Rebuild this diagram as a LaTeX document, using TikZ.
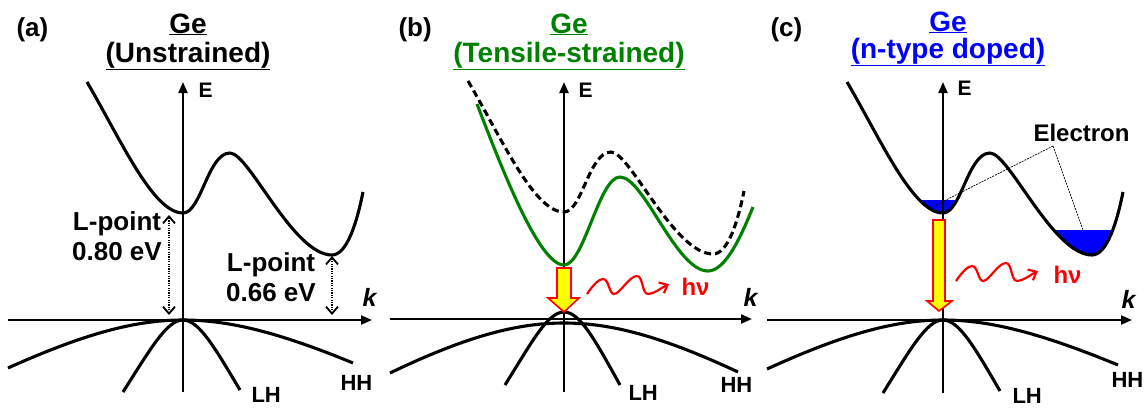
\documentclass[tikz,border=0pt]{standalone}
\usepackage{fontspec}
\setmainfont{Liberation Sans}
\usetikzlibrary{arrows.meta, positioning}
\definecolor{geGreen}{HTML}{008000}
\definecolor{geBlue}{HTML}{0000FF}
\definecolor{geRed}{HTML}{FF0000}
\definecolor{geYellow}{HTML}{FFFF00}
\tikzset{
  axisL/.style={-{Triangle[length=11pt, width=9pt]}, line width=2.2pt},
  bandL/.style={line width=3.1pt, line join=round},
  bandDash/.style={bandL, dash pattern=on 7pt off 4pt},
  bandGreen/.style={bandL, draw=geGreen},
  gapArr/.style={{Straight Barb[length=7pt, width=12pt]}-{Straight Barb[length=7pt, width=12pt]},
                 line width=1.8pt, dash pattern=on 1.2pt off 1.2pt},
  emitArr/.style={draw=geRed, fill=geYellow, line width=1.6pt, line join=miter},
  waveL/.style={-{Straight Barb[length=7pt, width=12pt]}, geRed, line width=2.2pt},
  elecL/.style={black, line width=0.7pt, dash pattern=on 2pt off 1pt},
  titleTxt/.style={font=\bfseries\fontsize{28}{28}\selectfont, anchor=base},
  panelLbl/.style={font=\bfseries\fontsize{26}{26}\selectfont, anchor=base west},
  gapTxt/.style={font=\bfseries\fontsize{26}{30}\selectfont, align=center},
  axisTxt/.style={font=\bfseries\fontsize{21}{21}\selectfont, anchor=base west},
  kTxt/.style={font=\bfseries\itshape\fontsize{25}{25}\selectfont, anchor=base west},
  vbTxt/.style={font=\bfseries\fontsize{22}{22}\selectfont, anchor=base west},
  hvTxt/.style={font=\bfseries\fontsize{24}{24}\selectfont, anchor=base west, text=geRed},
  photon/.pic={\draw[waveL] (0,0) .. controls (6,-9) and (12,-15) .. (16,-15)
     .. controls (22,-15) and (22,0) .. (27,0) .. controls (33,0) and (42,-18) .. (50,-18)
     .. controls (56,-18) and (55,0) .. (61,0) .. controls (67,0) and (74,-6) .. (82,-10);},
}
% conduction band of unstrained Ge (origin = Gamma point at the VB top)
\newcommand{\gecband}{(-96,-238) .. controls (-62,-180) and (-30,-107) .. (0,-107)
  .. controls (18,-107) and (25,-167) .. (47,-167)
  .. controls (66,-167) and (110,-65) .. (149,-65)
  .. controls (164,-65) and (174,-98) .. (180,-128)}

\begin{document}
\begin{tikzpicture}[x=1pt, y=-1pt]
  \useasboundingbox (0,0) rectangle (1145,408);

  %% (a) unstrained
  \node[panelLbl] (labA) at (13,36) {(a)};
  \begin{scope}[shift={(183,320)}]
    \node[titleTxt] (geA) at (5,-287) {\underline{Ge}};
    \node[titleTxt] (unsA) at (5,-258) {\underline{(Unstrained)}};
    \draw[axisL] (-175,0) -- (189,0);
    \draw[axisL] (0,72) -- (0,-238);
    \node[axisTxt] (eA) at (12,-223) {E};
    \node[kTxt] (kA) at (176,-14) {k};
    \draw[bandL] \gecband;
    \draw[bandL] (-175,48) .. controls (-95,12) and (-45,0) .. (0,0)
       .. controls (45,0) and (95,12) .. (170,43);
    \draw[bandL] (-60,72) .. controls (-32,28) and (-16,0) .. (0,0)
       .. controls (16,0) and (32,28) .. (57,70);
    \node[vbTxt] (lhA) at (65,82) {LH};
    \node[vbTxt] (hhA) at (154,70) {HH};
    %% gaps
    \coordinate (gTopA) at (-14,-105); \coordinate (gBotA) at (-14,-5);
    \coordinate (lTopA) at (149,-64); \coordinate (lBotA) at (149,-5);
    \draw[gapArr] (gBotA) -- (gTopA);
    \draw[gapArr] (lBotA) -- (lTopA);
    \node[gapTxt] (gLblA) at (-66,-84) {L-point\\0.80 eV};
    \node[gapTxt] (lLblA) at (88,-43) {L-point\\0.66 eV};
  \end{scope}

  %% (b) tensile strained
  \node[panelLbl] (labB) at (395,36) {(b)};
  \begin{scope}[shift={(564,319)}]
    \node[titleTxt, text=geGreen] (geB) at (5,-286) {\underline{Ge}};
    \node[titleTxt, text=geGreen] (tenB) at (5,-257) {\underline{(Tensile-strained)}};
    \draw[axisL] (-174,0) -- (188,0);
    \draw[axisL] (0,73) -- (0,-237);
    \node[axisTxt] (eB) at (11,-222) {E};
    \node[kTxt] (kB) at (176,-13) {k};
    \draw[bandDash] \gecband;
    \draw[bandGreen] (-87,-215) .. controls (-62,-150) and (-25,-54) .. (0,-54)
       .. controls (20,-54) and (35,-142) .. (56,-142)
       .. controls (80,-142) and (112,-48) .. (144,-48)
       .. controls (162,-48) and (178,-85) .. (189,-112);
    \draw[bandL] (-174,54) .. controls (-95,16) and (-45,4) .. (0,4)
       .. controls (45,4) and (95,16) .. (174,53);
    \draw[bandL] (-59,66) .. controls (-31,21) and (-16,-7) .. (0,-7)
       .. controls (16,-7) and (31,21) .. (56,66);
    \node[vbTxt] (lhB) at (61,81) {LH};
    \node[vbTxt] (hhB) at (153,73) {HH};
    %% emission
    \draw[emitArr] (-7,-51) -- (7,-51) -- (7,-21) -- (15,-21) -- (0,-7)
       -- (-16,-21) -- (-7,-21) -- cycle;
    \pic at (23,-25) {photon};
    \node[hvTxt] (hvB) at (114,-24) {hν};
  \end{scope}

  %% (c) n-type doped
  \node[panelLbl] (labC) at (767,36) {(c)};
  \begin{scope}[shift={(943,320)}]
    \node[titleTxt, text=geBlue] (geC) at (5,-289) {\underline{Ge}};
    \node[titleTxt, text=geBlue] (dopC) at (5,-262) {\underline{(n-type doped)}};
    %% electron pockets
    \begin{scope}
      \clip (-30,-120) rectangle (25,-95);
      \fill[geBlue] \gecband -- (180,-300) -- (-96,-300) -- cycle;
    \end{scope}
    \begin{scope}
      \clip (110,-90) rectangle (178,-55);
      \fill[geBlue] \gecband -- (180,-300) -- (-96,-300) -- cycle;
    \end{scope}
    \draw[axisL] (-176,0) -- (189,0);
    \draw[axisL] (0,73) -- (0,-238);
    \node[axisTxt] (eC) at (11,-225) {E};
    \node[kTxt] (kC) at (175,-12) {k};
    \draw[bandL] \gecband;
    \draw[bandL] (-176,49) .. controls (-95,12) and (-45,0) .. (0,0)
       .. controls (45,0) and (95,12) .. (175,45);
    \draw[bandL] (-60,73) .. controls (-32,28) and (-16,0) .. (0,0)
       .. controls (16,0) and (32,28) .. (57,71);
    \node[vbTxt] (lhC) at (66,83) {LH};
    \node[vbTxt] (hhC) at (165,67) {HH};
    %% electron label
    \node[font=\bfseries\fontsize{24}{24}\selectfont, anchor=base west] (elecC) at (87,-179) {Electron};
    \coordinate (eJoin) at (110,-174);
    \coordinate (pk1) at (-7,-115); \coordinate (pk2) at (140,-90);
    \draw[elecL] (eJoin) -- (pk1);
    \draw[elecL] (eJoin) -- (pk2);
    %% emission
    \draw[emitArr] (-10,-100) -- (2,-100) -- (2,-19) -- (9,-19) -- (-4,-9)
       -- (-16,-19) -- (-10,-19) -- cycle;
    \pic at (13,-39) {photon};
    \node[hvTxt] (hvC) at (107,-37) {hν};
  \end{scope}
\end{tikzpicture}
\end{document}
